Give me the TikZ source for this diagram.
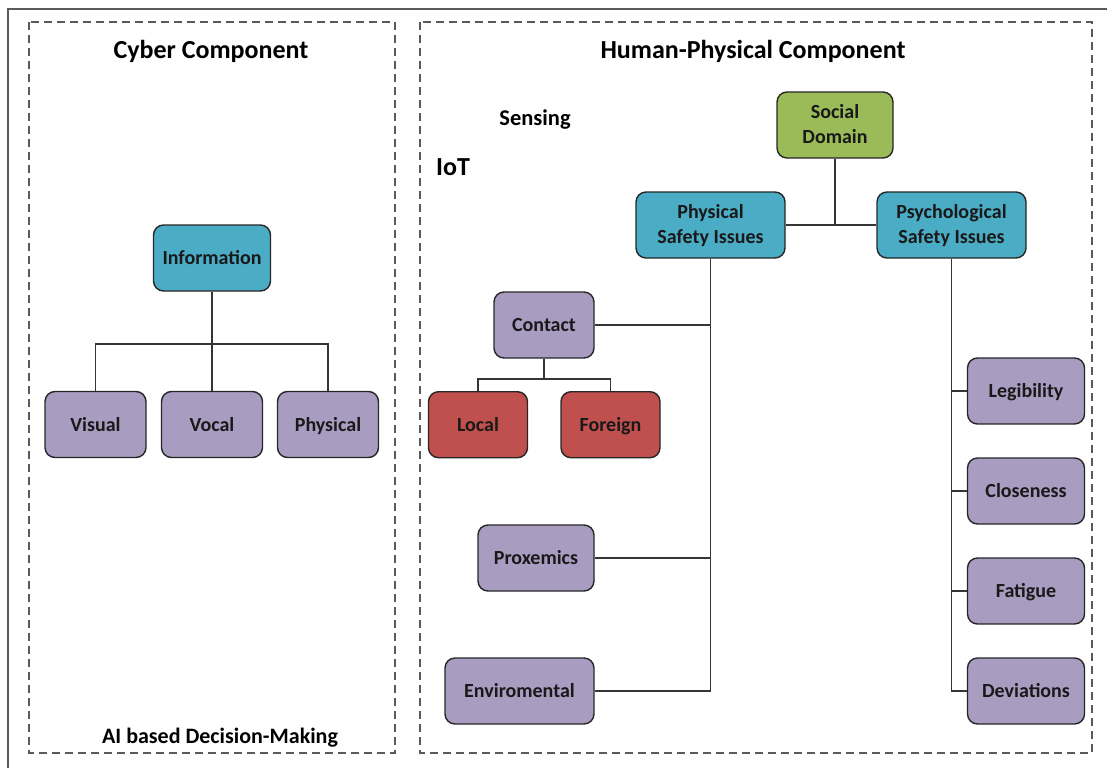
\documentclass[tikz,border=0pt]{standalone}
\usepackage{fontspec}
\setmainfont{Carlito}
\definecolor{tealbox}{HTML}{4BACC6}
\definecolor{greenbox}{HTML}{9BBB59}
\definecolor{purplebox}{HTML}{A99CC1}
\definecolor{redbox}{HTML}{C0504D}
\definecolor{framegray}{HTML}{5A5A5A}
\definecolor{linegray}{HTML}{353535}
\tikzset{
  box/.style={draw=black!85, line width=1.4pt, rounded corners=10pt,
    inner sep=0pt, align=center, font=\fontsize{20}{25}\selectfont\bfseries,
    text=black!90, minimum height=66pt, text height=15pt, text depth=2pt},
  twoline/.style={text height=38.6pt, text depth=2pt},
  infobox/.style={box, fill=tealbox},
  leafbox/.style={box, fill=purplebox},
  redleaf/.style={box, fill=redbox},
  greenleaf/.style={box, fill=greenbox},
  panel/.style={draw=framegray, line width=1.4pt, dash pattern=on 8pt off 5pt},
  link/.style={draw=linegray, line width=1.3pt},
  title/.style={font=\fontsize{26}{30}\selectfont\bfseries, inner sep=0pt, anchor=base},
  caption/.style={font=\fontsize{22}{26}\selectfont\bfseries, inner sep=0pt, anchor=base}
}
\begin{document}
\begin{tikzpicture}[x=1pt, y=-1pt]
\useasboundingbox (0,0) rectangle (1107,768);
% outer frame
\draw[framegray, line width=2pt] (8,768) -- (8,9) -- (1107,9);

% panels
\draw[panel] (29,22) rectangle (395,753);
\draw[panel] (420,22) rectangle (1092,753);

% ---------- cyber component ----------
\node[title] (cybertitle) at (211,59) {Cyber Component};
\node[caption] (aidm) at (220,743) {AI based Decision-Making};

\node[infobox, minimum width=117pt] (info) at (212,258) {Information};
\node[leafbox, minimum width=101pt] (visual) at (95.5,424.5) {Visual};
\node[leafbox, minimum width=101pt] (vocal) at (212,424.5) {Vocal};
\node[leafbox, minimum width=101pt] (physical) at (328,424.5) {Physical};

\coordinate (cbus) at (212,344);
\draw[link] (info) -- (vocal);
\draw[link] (visual.north) |- (cbus) -| (physical.north);

% ---------- human-physical component ----------
\node[title] (hptitle) at (753,59) {Human-Physical Component};
\node[caption, font=\fontsize{22.5}{26}\selectfont\bfseries] (sensing) at (535,125) {Sensing};
\node[title] (iot) at (453,175) {IoT};

\node[greenleaf, twoline, minimum width=116pt] (social) at (835,125) {Social\\Domain};
\node[infobox, twoline, minimum width=149pt] (physsafe) at (710.5,225) {Physical\\Safety Issues};
\node[infobox, twoline, minimum width=149pt] (psychsafe) at (951.5,225) {Psychological\\Safety Issues};

\draw[link] (physsafe.east) -- (psychsafe.west);
\draw[link] (social.south) -- (social.south |- physsafe.east);

% physical safety branch
\node[leafbox, minimum width=100pt] (contact) at (544,325) {Contact};
\node[redleaf, minimum width=99pt] (local) at (478,424.7) {Local};
\node[redleaf, minimum width=99pt] (foreign) at (610.5,424.7) {Foreign};
\node[leafbox, minimum width=116pt] (proxemics) at (536,558) {Proxemics};
\node[leafbox, minimum width=149pt] (enviro) at (519.5,691) {Enviromental};

\draw[link] (physsafe.south) -- (physsafe.south |- enviro.east) -- (enviro.east);
\draw[link] (contact.east) -- (contact.east -| physsafe.south);
\draw[link] (proxemics.east) -- (proxemics.east -| physsafe.south);

\coordinate (contactbus) at (544,379);
\draw[link] (contact.south) -- (contactbus);
\draw[link] (local.north) |- (contactbus) -| (foreign.north);

% psychological safety branch
\node[leafbox, minimum width=117pt] (legibility) at (1026,391) {Legibility};
\node[leafbox, minimum width=117pt] (closeness) at (1026,491) {Closeness};
\node[leafbox, minimum width=117pt] (fatigue) at (1026,591) {Fatigue};
\node[leafbox, minimum width=117pt] (deviations) at (1026,691) {Deviations};

\draw[link] (psychsafe.south) -- (psychsafe.south |- deviations.west) -- (deviations.west);
\draw[link] (legibility.west) -- (legibility.west -| psychsafe.south);
\draw[link] (closeness.west) -- (closeness.west -| psychsafe.south);
\draw[link] (fatigue.west) -- (fatigue.west -| psychsafe.south);
\end{tikzpicture}
\end{document}
